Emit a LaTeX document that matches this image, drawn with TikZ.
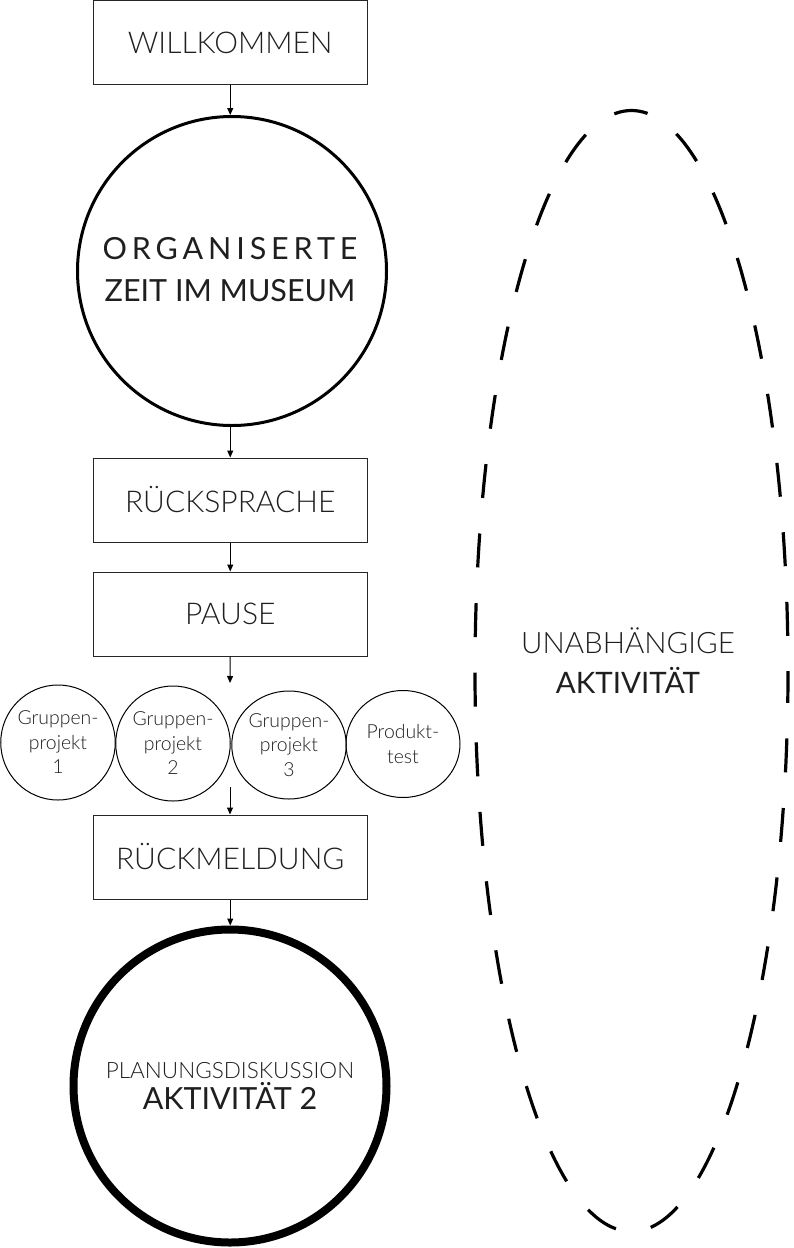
\documentclass[tikz,border=0pt]{standalone}
\usepackage{fontspec}
\setmainfont{Lato}
\newfontfamily\lightfont{Lato Light}
\usetikzlibrary{arrows.meta,shapes.geometric}
\definecolor{ink}{gray}{0.12}
\tikzset{
  box/.style={draw=black!85, line width=1pt, minimum width=273.5pt, minimum height=84pt, inner sep=0pt, text=ink, font=\lightfont\fontsize{30}{34}\selectfont},
  small/.style={draw=black, ellipse, line width=1pt, minimum width=114pt, inner sep=0pt, align=center, text=ink, font=\lightfont\fontsize{19.4}{24.5}\selectfont},
  conn/.style={line width=1pt, -{Triangle[length=7pt,width=6pt]}},
  lbl/.style={anchor=base, inner sep=0pt, text=ink},
}
\begin{document}
\begin{tikzpicture}[x=1pt,y=1pt]
\useasboundingbox (0,0) rectangle (793,-1248);
\node[box] (willk) at (230.25,-42.5) {WILLKOMMEN};
\node[draw, circle, line width=3pt, minimum size=309pt, inner sep=0pt] (orga) at (232,-271) {};
\node[lbl, font=\fontsize{30.5}{34}\selectfont\addfontfeatures{LetterSpace=16}] (orga1) at (230,-259) {ORGANISERTE};
\node[lbl, font=\fontsize{30.5}{34}\selectfont] (orga2) at (230,-301) {ZEIT IM MUSEUM};
\node[box] (ruecksp) at (230.25,-500) {RÜCKSPRACHE};
\node[box] (pause) at (230.25,-614) {PAUSE};
\node[small, minimum height=115pt] (g1) at (58,-742.5) {Gruppen-\\projekt\\1};
\node[small, minimum height=115pt] (g2) at (173,-743.5) {Gruppen-\\projekt\\2};
\node[small, minimum height=108pt] (g3) at (289,-745) {Gruppen-\\projekt\\3};
\node[small, minimum height=107pt] (pt) at (403,-744) {Produkt-\\test};
\node[box] (rueckm) at (230.25,-857) {RÜCKMELDUNG};
\node[draw, circle, line width=8pt, minimum size=313pt, inner sep=0pt] (plan) at (230,-1086) {};
\node[lbl, font=\lightfont\fontsize{22.5}{26}\selectfont] (plan1) at (230,-1078) {PLANUNGSDISKUSSION};
\node[lbl, font=\fontsize{30.5}{34}\selectfont] (plan2) at (230,-1109) {AKTIVITÄT 2};
\node[draw, ellipse, dash pattern=on 34pt off 35.66pt, dash phase=34.46pt, line width=3.2pt, minimum width=313pt, minimum height=1121pt, inner sep=0pt] (unab) at (631.5,-671) {};
\node[lbl, font=\lightfont\fontsize{29.5}{34}\selectfont] (unab1) at (628,-653) {UNABHÄNGIGE};
\node[lbl, font=\fontsize{29.5}{34}\selectfont] (unab2) at (628,-693) {AKTIVITÄT};
\coordinate (pend) at (230,-683);
\coordinate (gstart) at (230,-787);
\draw[conn] (willk.south) -- (willk.south |- orga.north);
\draw[conn] (orga.south -| ruecksp.north) -- (ruecksp.north);
\draw[conn] (ruecksp.south) -- (pause.north);
\draw[conn] (pause.south) -- (pend);
\draw[conn] (gstart) -- (gstart |- rueckm.north);
\draw[conn] (rueckm.south) -- (rueckm.south |- plan.north);
\end{tikzpicture}
\end{document}
